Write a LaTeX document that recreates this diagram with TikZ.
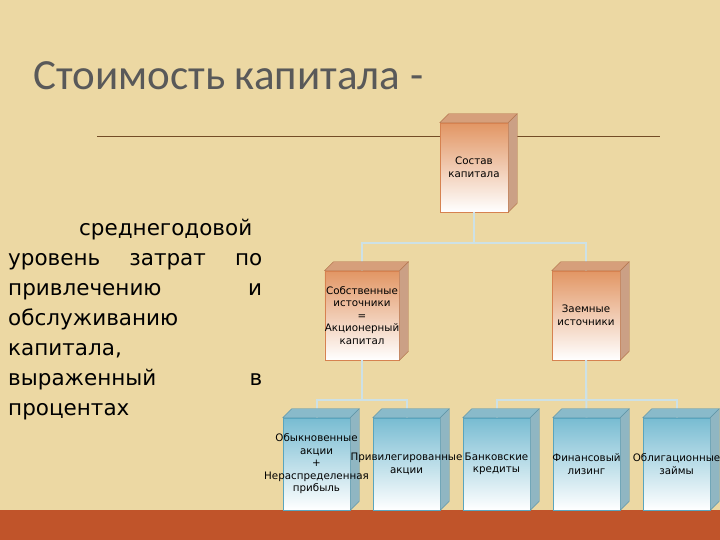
\documentclass[tikz,border=0pt]{standalone}
\usepackage{fontspec}
\setmainfont{Carlito}
\newfontfamily\boxfont{DejaVu Sans}
\newfontfamily\deffont{DejaVu Sans}
\definecolor{parch}{RGB}{236,216,163}
\definecolor{band}{RGB}{192,84,42}
\definecolor{org}{RGB}{226,150,100}
\definecolor{orgd}{RGB}{214,130,80}
\definecolor{blu}{RGB}{120,188,210}
\definecolor{blud}{RGB}{90,165,190}
\definecolor{conn}{RGB}{205,225,230}
\tikzset{
 bfont/.style={font=\boxfont\fontsize{10.3}{12.5}\selectfont},
 obox/.style={draw=orgd,line width=0.5pt,top color=org,bottom color=white,minimum width=68pt,minimum height=89pt,inner sep=0pt,align=center,bfont},
 bbox/.style={draw=blud,line width=0.5pt,top color=blu,bottom color=white,minimum width=67pt,minimum height=92pt,inner sep=0pt},
 btext/.style={align=center,bfont,inner sep=0pt},
 cn/.style={draw=conn,line width=2pt}
}
\newcommand{\depthfaces}[2]{%
 \fill[#2!90!black!80,draw=#2!80!black,line width=0.4pt] (#1.north west)--++(9pt,9pt)-|([xshift=9pt,yshift=9pt]#1.north east)--(#1.north east)--cycle;
 \fill[#2!80!black!70,draw=#2!80!black,line width=0.4pt] (#1.north east)--++(9pt,9pt)--([xshift=9pt,yshift=9pt]#1.south east)--(#1.south east)--cycle;}
\begin{document}
\begin{tikzpicture}[x=1pt,y=1pt]
\useasboundingbox (0,0) rectangle (720,540);
\fill[parch] (0,0) rectangle (720,540);
\fill[band] (0,0) rectangle (720,30);
\node[anchor=west,font=\fontsize{43}{46}\selectfont,text=black!65] (title) at (30,464) {Стоимость капитала -};
\coordinate (l1) at (97,404); \coordinate (l2) at (660,404);
\draw[brown!60!black,line width=0.6pt] (l1)--(l2);
\node[anchor=north west,text width=254pt,align=left,font=\deffont\fontsize{21.5}{30}\selectfont,inner sep=0pt] (def) at (8,321)
 {\hspace*{3.3em}среднегодовой\\ уровень\hfill затрат\hfill по\\ привлечению\hfill и\\ обслуживанию\\ капитала,\\ выраженный\hfill в\\ процентах};
% boxes
\node[obox] (sost) at (474,372.5) {Состав\\капитала};
\node[obox,minimum width=70pt] (sob) at (362,224.5) {Собственные\\источники\\=\\Акционерный\\капитал};
\node[obox] (zaem) at (586,224.5) {Заемные\\источники};
\draw[cn] (sost.south) -- ++(0,-31) -| (sob.north);
\draw[cn] (sost.south) ++(0,-31) -| (zaem.north);
\node[bbox] (b1) at (316.5,76) {};
\node[bbox] (b2) at (406.5,76) {};
\node[bbox] (b3) at (496.5,76) {};
\node[bbox] (b4) at (586.5,76) {};
\node[bbox] (b5) at (676.5,76) {};
\draw[cn] (sob.south) -- ++(0,-40) -| (b1.north);
\draw[cn] (sob.south) ++(0,-40) -| (b2.north);
\draw[cn] (zaem.south) -- ++(0,-40) -| (b3.north);
\draw[cn] (zaem.south) ++(0,-40) -| (b5.north);
\draw[cn] (zaem.south) -- (b4.north);
\depthfaces{sost}{org}\depthfaces{sob}{org}\depthfaces{zaem}{org}
\depthfaces{b1}{blu}\depthfaces{b2}{blu}\depthfaces{b3}{blu}\depthfaces{b4}{blu}\depthfaces{b5}{blu}
\node[btext] (t1) at (b1) {Обыкновенные\\акции\\+\\Нераспределенная\\прибыль};
\node[btext] (t2) at (b2) {Привилегированные\\акции};
\node[btext] (t3) at (b3) {Банковские\\кредиты};
\node[btext] (t4) at (b4) {Финансовый\\лизинг};
\node[btext] (t5) at (b5) {Облигационные\\займы};
\end{tikzpicture}
\end{document}
